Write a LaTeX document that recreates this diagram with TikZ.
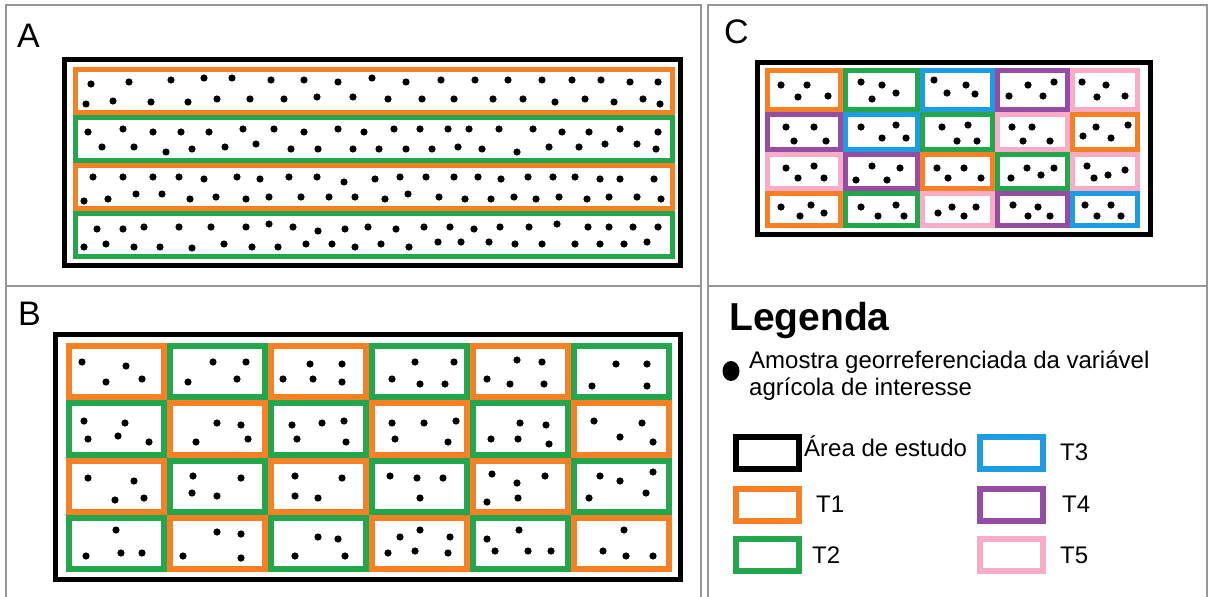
\documentclass[tikz,border=0pt]{standalone}
\usepackage{fontspec}
\setmainfont{Liberation Sans}
\usepackage{tikz}
\usetikzlibrary{positioning}
\definecolor{tumO}{RGB}{246,128,38}
\definecolor{tumG}{RGB}{36,166,76}
\definecolor{tumB}{RGB}{30,156,226}
\definecolor{tumP}{RGB}{150,76,162}
\definecolor{tumR}{RGB}{248,172,200}
\definecolor{moldura}{RGB}{150,150,150}

\tikzset{
  painel/.style={draw=moldura,line width=1.5pt},
  area/.style={draw=black,line width=5pt},
  parcela/.style={line width=5pt},
  legcaixa/.style={draw,line width=6pt,minimum width=63pt,minimum height=32pt,inner sep=0pt},
  rotulo/.style={font=\fontsize{34}{40}\selectfont,inner sep=0pt,anchor=base west},
  legtexto/.style={font=\fontsize{24}{27}\selectfont,inner sep=0pt},
}

\begin{document}
\begin{tikzpicture}[x=1pt,y=-1pt]
  \useasboundingbox (0,0) rectangle (1211,597);
  % molduras dos quatro paineis
  \draw[painel] (6,5) rectangle (701,286);
  \draw[painel] (708,5) rectangle (1207,286);
  \draw[painel] (6,286) rectangle (701,599);
  \draw[painel] (708,286) rectangle (1207,599);

  % A: faixas
  \node[rotulo] (rotA) at (17,47) {A};
  \draw[area] (64.5,59.5) rectangle (680.5,265.5);
  \foreach \ya/\cor in {67/tumO,115/tumG,163/tumO,211/tumG}
    \draw[parcela,\cor] (75.5,\ya+2.5) rectangle (672.5,\ya+45.5);
  \foreach \p in {(91,84),(129,82),(171,80),(204,78),(232,78),(271,80),(304,80),(338,82),(372,78),(406,82),(441,80),(475,80),(508,80),(542,80),(572,80),(601,80),(630,82),(658,82),
    (86,104),(113,101),(151,102),(188,102),(217,99),(250,99),(284,99),(317,97),(353,97),(388,99),(422,99),(454,99),(493,99),(523,99),(555,102),(585,99),(614,102),(643,99),(660,104),
    (88,132),(123,129),(153,132),(181,132),(209,132),(243,129),(274,129),(304,132),(338,129),(364,132),(394,129),(420,129),(448,129),(469,129),(499,129),(533,129),(562,132),(589,132),(620,129),(658,132),
    (102,147),(134,147),(166,152),(192,149),(225,147),(256,144),(291,149),(318,149),(353,149),(379,149),(406,149),(432,149),(458,147),(482,149),(517,152),(549,147),(579,147),(605,144),(637,144),(656,149),
    (93,177),(123,177),(153,177),(179,177),(204,179),(237,177),(260,179),(289,177),(317,177),(344,182),(375,179),(400,177),(426,177),(454,177),(478,177),(501,179),(528,177),(553,177),(575,177),(600,179),(620,179),(654,179),
    (84,201),(108,199),(136,194),(162,194),(190,199),(216,197),(246,199),(269,197),(301,197),(329,197),(355,197),(385,199),(408,194),(439,197),(465,199),(491,199),(514,197),(536,199),(559,197),(587,199),(609,197),(637,197),(661,199),
    (97,229),(123,229),(144,227),(179,227),(211,227),(246,227),(269,224),(293,227),(318,231),(345,229),(368,227),(396,229),(424,227),(450,227),(474,229),(500,227),(529,227),(557,224),(588,227),(609,227),(633,227),(658,227),
    (84,247),(106,244),(134,247),(160,247),(192,248),(224,244),(252,247),(278,247),(306,244),(332,244),(355,247),(381,244),(409,247),(438,242),(461,242),(489,242),(515,244),(542,244),(575,244),(600,244),(624,244),(647,242)}
    \fill \p circle (3.6pt);

  % B: parcelas em xadrez
  \node[rotulo] (rotB) at (18,325) {B};
  \draw[area] (55.5,334.5) rectangle (680.5,579.5);
  \foreach \i in {1,...,6}
    \foreach \j in {1,...,4}{
      \ifodd\numexpr\i+\j\relax \def\cor{tumG}\else\def\cor{tumO}\fi
      \draw[parcela,line width=6pt,\cor] (66+101*\i-101+3,343+57.25*\j-57.25+3) rectangle (66+101*\i-3,343+57.25*\j-3);
    }
  \foreach \p in {(82,362),(126,366),(106,382),(142,379),(213,362),(246,362),(188,382),(237,379),
    (310,364),(342,364),(283,379),(313,379),(342,382),(415,362),(454,362),(392,379),(420,384),(445,384),
    (517,360),(542,362),(487,379),(510,384),(544,384),(616,364),(647,364),(592,386),(647,386),
    (84,421),(125,423),(118,436),(88,439),(149,442),(217,423),(241,425),(196,442),(248,439),
    (292,425),(322,423),(344,421),(297,439),(346,442),(392,423),(424,423),(456,421),(395,439),(448,442),
    (520,423),(546,425),(491,439),(518,439),(549,444),(594,421),(642,423),(620,437),(653,442),
    (88,478),(134,481),(115,500),(144,498),(193,476),(241,478),(192,493),(217,496),
    (295,476),(342,478),(295,496),(318,498),(390,476),(417,478),(443,478),(420,498),
    (492,474),(545,476),(517,483),(518,498),(487,502),(600,476),(620,481),(653,472),(589,498),(646,493),
    (116,530),(86,556),(121,553),(142,553),(217,532),(241,534),(183,556),(241,558),
    (318,537),(338,539),(295,556),(345,556),(420,530),(400,537),(450,537),(388,553),(415,551),(448,553),
    (519,530),(487,539),(495,551),(528,551),(551,551),(624,530),(603,551),(626,556),(653,556)}
    \fill \p circle (3.6pt);

  % C: cinco tratamentos
  \node[rotulo] (rotC) at (724,43) {C};
  \draw[area] (757.5,62.5) rectangle (1150.5,234.5);
  \foreach \i/\j/\cor in {1/1/tumO,2/1/tumG,3/1/tumB,4/1/tumP,5/1/tumR,
                          1/2/tumP,2/2/tumB,3/2/tumG,4/2/tumR,5/2/tumO,
                          1/3/tumR,2/3/tumP,3/3/tumO,4/3/tumG,5/3/tumR,
                          1/4/tumO,2/4/tumG,3/4/tumR,4/4/tumP,5/4/tumB}{
    \pgfmathsetmacro\xa{{765,843,920,995,1070,1140}[\i-1]}
    \pgfmathsetmacro\xb{{765,843,920,995,1070,1140}[\i]}
    \pgfmathsetmacro\ya{{68,112,152,191,228}[\j-1]}
    \pgfmathsetmacro\yb{{68,112,152,191,228}[\j]}
    \draw[parcela,\cor] (\xa+2.5,\ya+2.5) rectangle (\xb-2.5,\yb-2.5);
  }
  \foreach \p in {(781,85),(807,85),(798,97),(828,96),(861,82),(882,85),(872,99),(896,93),
    (934,80),(966,85),(947,93),(975,94),(1028,85),(1054,82),(1009,96),(1043,96),
    (1082,82),(1106,85),(1097,97),(1125,96),
    (786,127),(814,127),(794,141),(826,141),(861,127),(896,125),(882,138),(906,138),
    (942,127),(968,125),(957,141),(977,141),(1012,127),(1032,127),(1023,141),(1050,141),
    (1096,127),(1128,125),(1083,136),(1111,138),
    (786,168),(814,166),(798,178),(824,178),(872,166),(900,168),(856,180),(887,180),
    (937,168),(964,168),(948,178),(981,178),(1027,168),(1054,168),(1011,178),(1041,175),
    (1087,166),(1125,170),(1094,178),(1108,175),
    (781,207),(811,205),(800,216),(824,213),(861,207),(896,205),(878,216),(904,216),
    (952,207),(976,207),(938,213),(964,216),(1013,205),(1038,207),(1028,216),(1050,216),
    (1085,205),(1111,205),(1097,216),(1121,216)}
    \fill \p circle (3.6pt);

  % legenda
  \node[inner sep=0pt,anchor=base west,font=\fontsize{39}{45}\selectfont\bfseries] (titulo) at (729,330) {Legenda};
  \fill (731,371) ellipse (8.5pt and 10pt);
  \node[legtexto,anchor=base west,align=left] (amostra) at (749,395) {Amostra georreferenciada da variável\\agrícola de interesse};
  \node[legcaixa,draw=black] (cxArea) at (767.5,452.5) {};
  \node[legcaixa,draw=tumO] (cxT1) at (767.5,504.5) {};
  \node[legcaixa,draw=tumG] (cxT2) at (767.5,555) {};
  \node[legcaixa,draw=tumB] (cxT3) at (1011.5,452.5) {};
  \node[legcaixa,draw=tumP] (cxT4) at (1011.5,504.5) {};
  \node[legcaixa,draw=tumR] (cxT5) at (1011.5,555) {};
  \node[legtexto,base right=2pt of cxArea,yshift=-3.5pt] (txArea) {Área de estudo};
  \node[legtexto,right=14pt of cxT1] (txT1) {T1};
  \node[legtexto,right=10pt of cxT2] (txT2) {T2};
  \node[legtexto,right=14pt of cxT3] (txT3) {T3};
  \node[legtexto,right=16pt of cxT4] (txT4) {T4};
  \node[legtexto,right=14pt of cxT5] (txT5) {T5};
\end{tikzpicture}
\end{document}
